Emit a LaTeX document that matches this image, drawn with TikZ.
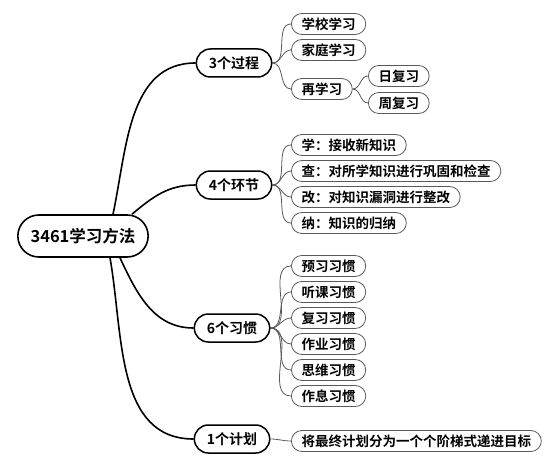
\documentclass[tikz,border=0pt]{standalone}
\usepackage{fontspec}
\setmainfont{Noto Sans CJK SC}[BoldFont={Noto Sans CJK SC Bold}]
\usetikzlibrary{shapes.misc,backgrounds}
\begin{document}
\begin{tikzpicture}[x=1pt,y=-1pt,
    rootbox/.style={rounded rectangle,draw=black,line width=1.6pt,fill=white,
      minimum width=137pt,minimum height=42pt,
      font=\fontsize{16.5}{18}\selectfont\bfseries},
    topicbox/.style={rounded rectangle,draw=black,line width=1.5pt,fill=white,
      minimum width=82pt,minimum height=28pt,
      font=\fontsize{14}{16}\selectfont\bfseries},
    leafbox/.style={rounded rectangle,draw=black!65,line width=0.8pt,fill=white,
      anchor=west,minimum height=21pt,inner xsep=8pt,inner ysep=0pt,
      font=\fontsize{13.5}{15}\selectfont\bfseries},
    branch/.style={line width=1.6pt,black},
    twig/.style={line width=0.8pt,black!65}]
  \useasboundingbox (0,0) rectangle (553,473);
  % root
  \node[rootbox] (root) at (83,236) {3461学习方法};
  % topics
  \node[topicbox] (guocheng) at (234,63) {3个过程};
  \node[topicbox] (huanjie) at (234,185) {4个环节};
  \node[topicbox] (xiguan) at (232,328) {6个习惯};
  \node[topicbox] (jihua) at (232,439) {1个计划};
  % 3 processes
  \node[leafbox] (xuexiao) at (291,24) {学校学习};
  \node[leafbox] (jiating) at (291,50) {家庭学习};
  \node[leafbox] (zaixue) at (291,89) {再学习};
  \node[leafbox] (ri) at (368,76) {日复习};
  \node[leafbox] (zhou) at (368,103) {周复习};
  % 4 steps
  \foreach \t [count=\i] in {学：接收新知识,查：对所学知识进行巩固和检查,
      改：对知识漏洞进行整改,纳：知识的归纳}
    \node[leafbox] (hj\i) at (291,119+26*\i) {\t};
  % 6 habits
  \foreach \t [count=\i] in {预习习惯,听课习惯,复习习惯,作业习惯,思维习惯,作息习惯}
    \node[leafbox] (xg\i) at (291,240+26*\i) {\t};
  % 1 plan
  \node[leafbox] (mubiao) at (291,441) {将最终计划分为一个个阶梯式递进目标};
  % connectors
  \begin{scope}[on background layer]
    \draw[branch] ([xshift=30pt]root.north) to[out=78,in=180] (guocheng.west);
    \draw[branch] ([xshift=49pt]root.north) to[out=40,in=180] (huanjie.west);
    \draw[branch] ([xshift=37pt]root.south) to[out=-65,in=180] (xiguan.west);
    \draw[branch] ([xshift=27pt]root.south) to[out=-80,in=180] (jihua.west);
    \foreach \n in {xuexiao,jiating,zaixue}
      \draw[twig] (guocheng.east) to[out=0,in=180] (\n.west);
    \foreach \n in {ri,zhou}
      \draw[twig] (zaixue.east) to[out=0,in=180] (\n.west);
    \foreach \i in {1,...,4}
      \draw[twig] (huanjie.east) to[out=0,in=180] (hj\i.west);
    \foreach \i in {1,...,6}
      \draw[twig] (xiguan.east) to[out=0,in=180] (xg\i.west);
    \draw[twig] (jihua.east) to[out=0,in=180] (mubiao.west);
  \end{scope}
\end{tikzpicture}
\end{document}
